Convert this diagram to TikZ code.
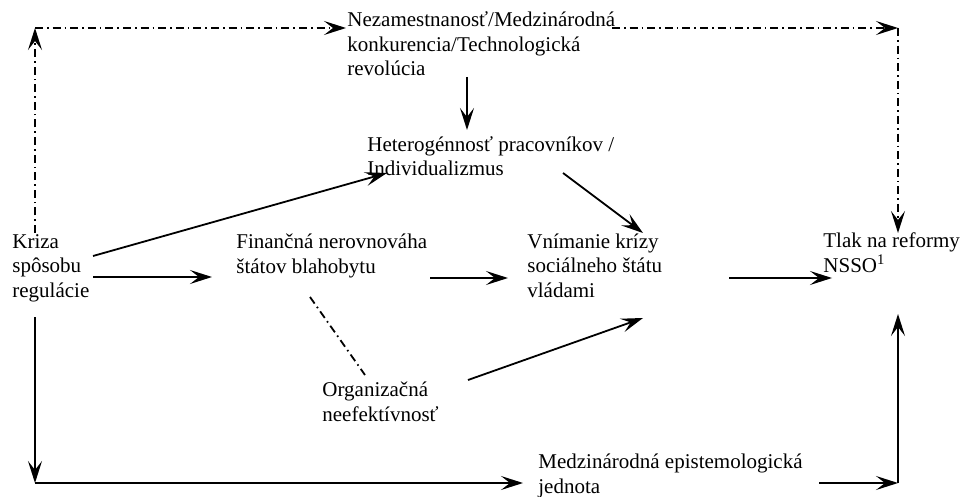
\documentclass[tikz,border=0pt]{standalone}
\usepackage{fontspec}
\setmainfont{Liberation Serif}
\usetikzlibrary{arrows.meta}

\tikzset{
  txt/.style={inner sep=0pt, anchor=base west, align=left, font=\fontsize{10.5}{12.25}\selectfont},
  arr/.style={line width=0.9pt, -{Stealth[length=11pt,width=7pt,inset=4.5pt]}},
  dashdot/.style={line width=0.9pt, dash pattern=on 4pt off 2pt on 0.8pt off 2pt},
  dasharr/.style={dashdot, -{Stealth[length=11pt,width=7pt,inset=4.5pt]}}
}

\begin{document}
\begin{tikzpicture}[x=0.5pt, y=-0.5pt]
\useasboundingbox (0,0) rectangle (962,497);

\node[txt] (nezam) at (347,76) {Nezamestnanosť/Medzinárodná\\konkurencia/Technologická\\revolúcia};
\node[txt] (hetero) at (367,176) {Heterogénnosť pracovníkov /\\Individualizmus};
\node[txt] (kriza) at (12,297) {Kriza\\spôsobu\\regulácie};
\node[txt] (fin) at (236,273) {Finančná nerovnováha\\štátov blahobytu};
\node[txt] (vnim) at (527,297) {Vnímanie krízy\\sociálneho štátu\\vládami};
\node[txt] (tlak) at (823,272) {Tlak na reformy\\NSSO\textsuperscript{1}};
\node[txt] (org) at (322,421) {Organizačná\\neefektívnosť};
\node[txt] (epist) at (538,493) {Medzinárodná epistemologická\\jednota};

\coordinate (tl) at (35,28);
\coordinate (tr) at (898,28);
\coordinate (bl) at (35,483);
\coordinate (br) at (898,483);
\coordinate (kriza-up) at (35,233);
\coordinate (kriza-down) at (35,317);
\coordinate (kriza-hetero) at (93,256);
\coordinate (kriza-fin) at (93,277);
\coordinate (nezam-in) at (346,28);
\coordinate (nezam-out) at (612,28);
\coordinate (nezam-down) at (467,77);
\coordinate (hetero-in) at (387,173);
\coordinate (hetero-top) at (467,130);
\coordinate (hetero-out) at (563,173);
\coordinate (fin-in) at (212,277);
\coordinate (fin-out) at (430,278);
\coordinate (fin-org) at (310,297);
\coordinate (org-fin) at (365,375);
\coordinate (org-out) at (468,380);
\coordinate (vnim-in) at (508,278);
\coordinate (vnim-top) at (643,233);
\coordinate (vnim-bottom) at (643,318);
\coordinate (vnim-out) at (729,278);
\coordinate (tlak-in) at (832,278);
\coordinate (tlak-top) at (898,233);
\coordinate (tlak-bottom) at (898,314);
\coordinate (epist-in) at (523,483);
\coordinate (epist-out) at (819,483);

\draw[dasharr] (kriza-up) -- (tl);
\draw[dasharr] (tl) -- (nezam-in);
\draw[dasharr] (nezam-out) -- (tr);
\draw[dasharr] (tr) -- (tlak-top);
\draw[arr] (nezam-down) -- (hetero-top);
\draw[arr] (kriza-hetero) -- (hetero-in);
\draw[arr] (kriza-fin) -- (fin-in);
\draw[arr] (hetero-out) -- (vnim-top);
\draw[arr] (fin-out) -- (vnim-in);
\draw[arr] (vnim-out) -- (tlak-in);
\draw[dashdot] (fin-org) -- (org-fin);
\draw[arr] (org-out) -- (vnim-bottom);
\draw[arr] (kriza-down) -- (bl);
\draw[arr] (bl) -- (epist-in);
\draw[arr] (epist-out) -- (br);
\draw[arr] (br) -- (tlak-bottom);
\end{tikzpicture}
\end{document}
